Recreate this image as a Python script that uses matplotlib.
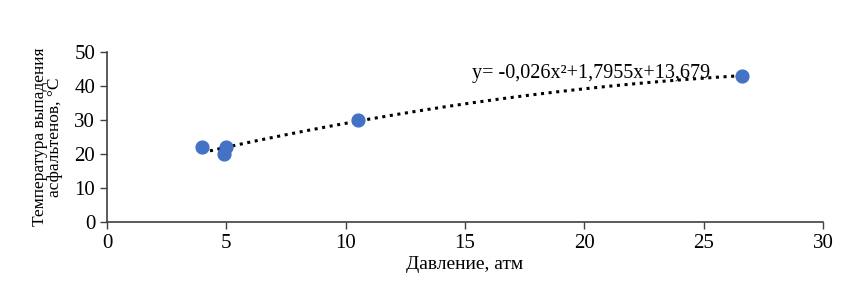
import matplotlib.pyplot as plt
import numpy as np

plt.rcParams["font.family"] = ["Liberation Serif", "DejaVu Serif"]

# measured points
pressure = [4.0, 4.9, 5.0, 10.5, 26.6]
temperature = [22.0, 20.0, 22.0, 30.0, 43.0]

# polynomial trendline shown on the chart
coef = [-0.026, 1.7955, 13.679]
trend_label = "y= -0,026x²+1,7955x+13,679"

fig = plt.figure(figsize=(8.65, 2.88), dpi=100)
ax = fig.add_axes([0.1237, 0.229, 0.8277, 0.5904])

xs = np.linspace(min(pressure), max(pressure), 200)
ax.plot(xs, np.polyval(coef, xs), color="black", linewidth=2.2,
        linestyle=(0, (1, 1.5)), zorder=2)
ax.scatter(pressure, temperature, s=85, color="#4472C4", zorder=3)

ax.text(20.3, 43.6, trend_label, fontsize=14.5, ha="center", va="center")

ax.set_xlim(0, 30)
ax.set_ylim(0, 50)
ax.set_xticks(range(0, 31, 5))
ax.set_yticks(range(0, 51, 10))
ax.tick_params(labelsize=15, length=5, width=1, direction="out", color="#404040")
for side in ("top", "right"):
    ax.spines[side].set_visible(False)
for side in ("left", "bottom"):
    ax.spines[side].set_color("#404040")
    ax.spines[side].set_linewidth(1.2)

ax.set_xlabel("Давление, атм", fontsize=14, labelpad=2)
ax.set_ylabel("Температура выпадения\nасфальтенов, °C", fontsize=12.5,
              linespacing=0.95, labelpad=8)

fig.savefig("out.png", dpi=100)
